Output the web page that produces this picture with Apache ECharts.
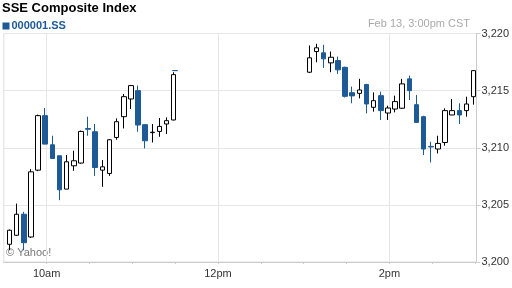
<!DOCTYPE html>
<html>
<head>
<meta charset="utf-8">
<script src="https://cdn.jsdelivr.net/npm/echarts@6/dist/echarts.min.js"></script>
<style>html,body{margin:0;padding:0;background:#fff}#c{width:512px;height:288px}</style>
</head>
<body>
<div id="c"></div>
<script>
var times = ["09:34","09:39","09:44","09:49","09:54","09:59","10:04","10:09","10:14","10:19","10:24","10:29",
  "10:34","10:39","10:44","10:49","10:54","10:59","11:04","11:09","11:14","11:19","11:24","11:29","11:30",
  "13:04","13:09","13:14","13:19","13:24","13:29","13:34","13:39","13:44","13:49","13:54","13:59",
  "14:04","14:09","14:14","14:19","14:24","14:29","14:34","14:39","14:44","14:49","14:54","14:59"];
var opens = [3201.55,3202.34,3204.18,3202.19,3208.04,3212.81,3210.26,3209.30,3206.38,3208.42,3208.66,3211.68,
  3211.40,3208.04,3207.75,3210.90,3212.72,3214.27,3215.00,3212.02,3211.32,3211.43,3212.08,3212.43,3216.76,
  3216.61,3218.42,3218.31,3217.43,3217.63,3217.04,3214.82,3214.76,3215.53,3213.54,3214.56,3213.04,
  3213.39,3213.46,3216.03,3213.77,3212.72,3210.12,3209.89,3210.46,3212.87,3213.25,3213.25,3214.47];
var closes = [3202.78,3204.18,3201.69,3207.89,3212.81,3210.32,3209.06,3206.32,3208.77,3208.86,3211.43,3211.62,
  3208.27,3208.33,3210.70,3212.28,3214.47,3215.44,3211.99,3210.61,3211.36,3211.87,3212.37,3216.40,3216.75,
  3217.87,3218.75,3217.78,3217.92,3216.82,3214.50,3214.54,3215.06,3213.83,3214.12,3213.25,3213.48,
  3214.04,3215.59,3215.00,3212.22,3209.89,3210.07,3210.38,3213.25,3213.25,3212.87,3213.83,3216.75];
var lows = [3201.03,3202.30,3201.03,3202.10,3207.95,3210.30,3209.06,3205.41,3206.38,3207.98,3208.60,3211.05,
  3207.54,3206.58,3207.54,3210.70,3211.69,3213.39,3211.40,3209.94,3210.46,3210.96,3211.20,3212.40,3216.75,
  3216.55,3217.48,3216.99,3216.61,3216.46,3214.40,3213.89,3214.32,3213.01,3213.16,3212.43,3212.43,
  3213.10,3213.40,3214.18,3212.17,3209.36,3208.71,3209.50,3210.18,3212.85,3212.08,3212.72,3213.77];
var highs = [3202.85,3205.11,3204.39,3208.13,3212.90,3213.48,3211.05,3209.30,3209.36,3209.74,3211.50,3212.72,
  3212.08,3208.92,3210.75,3212.57,3214.71,3215.50,3215.44,3212.02,3212.08,3212.60,3212.66,3216.61,3216.76,
  3218.95,3219.10,3219.01,3218.42,3217.98,3217.10,3215.35,3216.03,3215.60,3214.85,3214.91,3213.68,
  3214.56,3216.03,3216.32,3214.62,3212.80,3210.53,3211.05,3213.45,3214.27,3213.89,3214.47,3216.80];
var xTickLabels = {600: "10am", 720: "12pm", 840: "2pm"};
var gridTimes = [600, 720, 840];
var yMin = 3200, yMax = 3220, yStep = 5;

var BLUE = '#1d5a96';
function toMin(t){ var p = t.split(':'); return (+p[0]) * 60 + (+p[1]); }
var candles = times.map(function(t, i){ return [toMin(t), opens[i], closes[i], lows[i], highs[i]]; });
function fmtNum(v){ return String(v).replace(/\B(?=(\d{3})+(?!\d))/g, ','); }

var chart = echarts.init(document.getElementById('c'), null, {renderer: 'canvas'});
chart.setOption({
  animation: false,
  backgroundColor: '#fff',
  textStyle: {fontFamily: 'Liberation Sans, Arial, sans-serif'},
  title: {
    text: 'SSE Composite Index', left: 2, top: 2, padding: 0,
    textStyle: {fontSize: 13, fontWeight: 'bold', color: '#000', fontFamily: 'Liberation Sans, Arial, sans-serif'}
  },
  legend: {
    left: 2.5, top: 20.5, padding: 0, icon: 'rect', itemWidth: 7, itemHeight: 7,
    data: [{name: '000001.SS', itemStyle: {color: BLUE, borderWidth: 0}}],
    textStyle: {fontSize: 11, fontWeight: 'bold', color: BLUE, padding: [0, 0, 0, -3], fontFamily: 'Liberation Sans, Arial, sans-serif'},
    selectedMode: false
  },
  graphic: [
    {type: 'text', right: 42, top: 18.5, style: {text: 'Feb 13, 3:00pm CST', fill: '#aaaaaa', font: '11px "Liberation Sans", Arial, sans-serif'}},
    {type: 'text', left: 6, top: 247, style: {text: '\u00a9 Yahoo!', fill: '#777777', font: '11px "Liberation Sans", Arial, sans-serif'}}
  ],
  grid: {left: 3.8, right: 35, top: 33.5, bottom: 26, show: true, borderColor: '#dddddd', borderWidth: 1},
  xAxis: {
    type: 'value', min: 570, max: 901, interval: 30,
    axisLine: {show: true, lineStyle: {color: '#cccccc'}},
    axisTick: {show: true, length: 2, lineStyle: {color: '#cccccc'}},
    splitLine: {show: false},
    axisLabel: {
      fontSize: 11, color: '#333', margin: 6, showMaxLabel: false, showMinLabel: false,
      formatter: function(v){ return xTickLabels[v] || ''; }
    }
  },
  yAxis: {
    type: 'value', position: 'right', min: yMin, max: yMax, interval: yStep, scale: true,
    axisLine: {show: true, lineStyle: {color: '#cccccc'}},
    axisTick: {show: true, length: 4, lineStyle: {color: '#cccccc'}},
    splitLine: {show: true, lineStyle: {color: '#e6e6e6'}},
    axisLabel: {fontSize: 11, color: '#333', margin: 5, padding: [0, 0, 5, 0], formatter: fmtNum}
  },
  series: [{
    name: '000001.SS',
    type: 'candlestick',
    data: candles,
    encode: {x: 0, y: [1, 2, 3, 4]},
    barWidth: 5,
    itemStyle: {color: '#ffffff', color0: BLUE, borderColor: '#000000', borderColor0: BLUE, borderWidth: 1},
    markLine: {
      silent: true, symbol: 'none', z: 1, animation: false,
      label: {show: false},
      lineStyle: {color: '#e6e6e6', type: 'solid', width: 1},
      data: gridTimes.map(function(t){ return {xAxis: t}; })
    }
  }]
});
</script>
</body>
</html>
